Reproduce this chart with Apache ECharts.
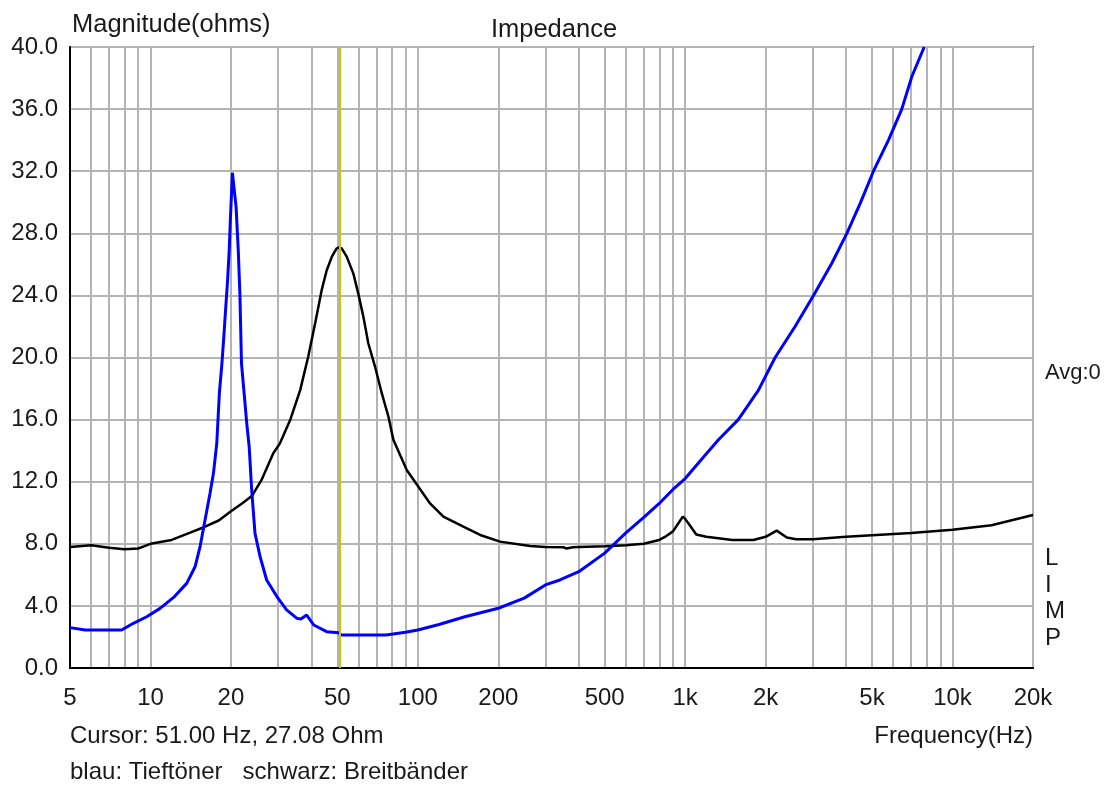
<!DOCTYPE html>
<html>
<head>
<meta charset="utf-8">
<script src="https://cdn.jsdelivr.net/npm/echarts@6.0.0/dist/echarts.min.js"></script>
<style>
  html, body { margin: 0; padding: 0; background: #fff; }
  #chart { width: 1110px; height: 790px; }
</style>
</head>
<body>
<div id="chart"></div>
<script>
// blau: Tieftöner
const wooferFreq = [5, 5.7, 7.8, 8.63, 9.68, 10.86, 12.3, 13.66, 14.68, 15.32, 16.0, 16.7, 17.2, 17.7, 18.1, 18.5, 18.8, 19.1, 19.4, 19.7, 19.9, 20.1, 20.25, 20.5, 20.9, 21.3, 21.6, 21.9, 22.4, 22.9, 23.4, 23.9, 24.6, 25.7, 27.2, 29.7, 32.3, 35.3, 36.5, 38.4, 40.8, 45.6, 50.5, 51.9, 60, 76, 90, 100, 120, 150, 200, 250, 300, 340, 400, 500, 600, 700, 800, 900, 1000, 1200, 1332, 1580, 1880, 2170, 2577, 3020, 3536, 4025, 4515, 5060, 5760, 6460, 7045, 7835]
const wooferOhm = [2.6, 2.45, 2.45, 2.88, 3.3, 3.84, 4.6, 5.45, 6.52, 7.8, 9.53, 11.25, 12.54, 14.47, 17.7, 19.6, 21.3, 23.1, 24.8, 26.9, 28.9, 30.6, 31.9, 31.9, 29.7, 26.9, 24.1, 19.6, 17.7, 15.8, 14.25, 11.5, 8.68, 7.17, 5.67, 4.6, 3.74, 3.2, 3.15, 3.41, 2.77, 2.34, 2.27, 2.12, 2.12, 2.12, 2.3, 2.45, 2.8, 3.3, 3.85, 4.5, 5.35, 5.67, 6.2, 7.4, 8.7, 9.7, 10.6, 11.5, 12.2, 13.8, 14.7, 16, 17.9, 20, 22.0, 24, 26.07, 28, 29.93, 32, 34, 36, 38.1, 40]

// schwarz: Breitbänder
const fullrangeFreq = [5, 6, 7, 8, 9, 9.5, 10, 12, 14, 16, 18, 20, 22, 24, 26, 28.8, 30.5, 33.3, 36.3, 38.9, 41.3, 43.7, 45.6, 47.7, 49.7, 51, 51.9, 54.2, 57.4, 59.9, 62.6, 65.3, 69.2, 73.3, 77.6, 81, 90.9, 100.5, 111.1, 124.6, 148, 171, 203, 263, 300, 350, 360, 380, 400, 500, 600, 700, 800, 850, 900, 950, 980, 1000, 1050, 1100, 1200, 1500, 1800, 2000, 2200, 2400, 2600, 3000, 4000, 5000, 7000, 10000, 14000, 20000]
const fullrangeOhm = [7.8, 7.9, 7.75, 7.65, 7.7, 7.85, 8.0, 8.25, 8.7, 9.1, 9.5, 10.1, 10.6, 11.1, 12.1, 13.83, 14.47, 15.97, 17.9, 20.05, 22.2, 24.35, 25.6, 26.5, 27.03, 27.1, 27.03, 26.5, 25.4, 24.1, 22.6, 20.9, 19.4, 17.7, 16.2, 14.7, 12.75, 11.68, 10.6, 9.75, 9.1, 8.57, 8.14, 7.86, 7.8, 7.78, 7.7, 7.78, 7.8, 7.85, 7.9, 8.0, 8.25, 8.5, 8.8, 9.4, 9.75, 9.6, 9.1, 8.6, 8.45, 8.25, 8.25, 8.45, 8.85, 8.4, 8.3, 8.3, 8.45, 8.55, 8.7, 8.9, 9.2, 9.85]

const gridFreqs = [5, 6, 7, 8, 9, 10, 20, 30, 40, 50, 60, 70, 80, 90, 100, 200, 300, 400, 500, 600, 700, 800, 900, 1000, 2000, 3000, 4000, 5000, 6000, 7000, 8000, 9000, 10000, 20000]
const xLabelFreqs = [5, 10, 20, 50, 100, 200, 500, 1000, 2000, 5000, 10000, 20000]
const xLabelTexts = ['5', '10', '20', '50', '100', '200', '500', '1k', '2k', '5k', '10k', '20k']
const cursorFreq = 51

const font = 'Liberation Sans, Arial, sans-serif'
const textColor = '#1a1a1a'

function pairs(xs, ys) {
  return xs.map((x, i) => [x, ys[i]])
}

function xLabel(value) {
  let best = 0
  xLabelFreqs.forEach((f, i) => {
    if (Math.abs(Math.log(f / value)) < Math.abs(Math.log(xLabelFreqs[best] / value))) best = i
  })
  return xLabelTexts[best]
}

const myChart = echarts.init(document.getElementById('chart'), null, { renderer: 'canvas' })

const option = {
  animation: false,
  backgroundColor: '#fff',
  title: {
    text: 'Impedance',
    left: 549,
    textAlign: 'center',
    top: 12,
    textStyle: { fontFamily: font, fontSize: 25.5, fontWeight: 'normal', color: textColor }
  },
  grid: {
    left: 70,
    right: 77,
    top: 47,
    bottom: 122,
    show: true,
    borderColor: '#333',
    borderWidth: 2,
    containLabel: false
  },
  xAxis: {
    type: 'log',
    logBase: 10,
    min: 5,
    max: 20000,
    axisLine: { show: true, lineStyle: { color: '#000', width: 2 } },
    axisTick: { show: false, customValues: gridFreqs },
    splitLine: { show: true, lineStyle: { color: '#b4b4b4', width: 2 } },
    axisLabel: {
      customValues: xLabelFreqs,
      formatter: xLabel,
      margin: 18,
      fontFamily: font,
      fontSize: 24,
      color: textColor
    }
  },
  yAxis: {
    type: 'value',
    min: 0,
    max: 40,
    interval: 4,
    axisLine: { show: true, lineStyle: { color: '#000', width: 2 } },
    axisTick: { show: false },
    splitLine: { show: true, lineStyle: { color: '#b4b4b4', width: 2 } },
    axisLabel: {
      formatter: (v) => v.toFixed(1),
      margin: 12,
      fontFamily: font,
      fontSize: 24,
      color: textColor
    }
  },
  series: [
    {
      name: 'Breitbänder',
      type: 'line',
      data: pairs(fullrangeFreq, fullrangeOhm),
      showSymbol: false,
      lineStyle: { color: '#000', width: 2.5 },
      z: 3,
      markLine: {
        silent: true,
        symbol: 'none',
        label: { show: false },
        lineStyle: { color: '#c8c800', width: 2, type: 'solid' },
        data: [{ xAxis: cursorFreq }]
      }
    },
    {
      name: 'Tieftöner',
      type: 'line',
      data: pairs(wooferFreq, wooferOhm),
      showSymbol: false,
      lineStyle: { color: '#0000ff', width: 3 },
      z: 4
    }
  ],
  graphic: [
    { type: 'text', left: 72, top: 12, style: { text: 'Magnitude(ohms)', font: '25.5px ' + font, fill: textColor } },
    { type: 'text', left: 70, top: 724, style: { text: 'Cursor: 51.00 Hz, 27.08 Ohm', font: '24px ' + font, fill: textColor } },
    { type: 'text', left: 70, top: 760, style: { text: 'blau: Tieftöner   schwarz: Breitbänder', font: '24px ' + font, fill: textColor } },
    { type: 'text', right: 77, top: 724, style: { text: 'Frequency(Hz)', font: '24px ' + font, fill: textColor } },
    { type: 'text', left: 1045, top: 362, style: { text: 'Avg:0', font: '22px ' + font, fill: textColor } },
    { type: 'text', left: 1045, top: 545, style: { text: 'L\nI\nM\nP', font: '24px ' + font, lineHeight: 26.7, fill: textColor } }
  ]
}

myChart.setOption(option, true)
</script>
</body>
</html>
